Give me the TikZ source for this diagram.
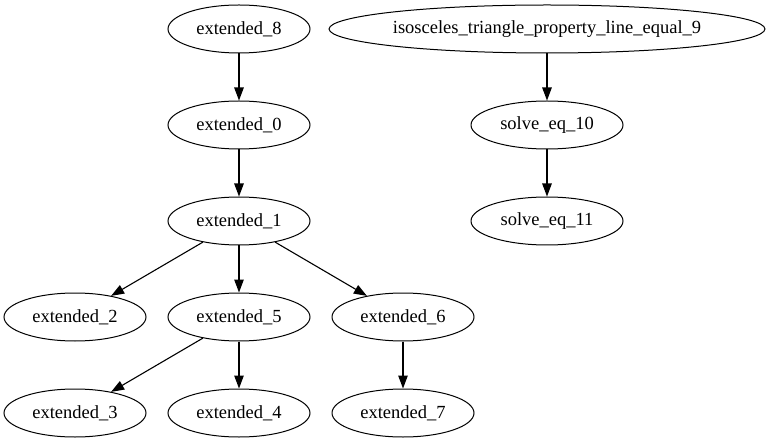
\documentclass[tikz,border=0pt]{standalone}
\usepackage{fontspec}
\setmainfont{Liberation Serif}
\usetikzlibrary{shapes.geometric,arrows.meta}
\begin{document}
\begin{tikzpicture}[x=1pt,y=-1pt,
  gnode/.style={draw,ellipse,line width=1pt,inner sep=0pt,minimum width=142pt,minimum height=48pt,font=\fontsize{18.5}{20}\selectfont},
  gedge/.style={draw,line width=1.1pt,-{Triangle[length=13pt,width=9.5pt]}}]
\useasboundingbox (0,0) rectangle (767,443);
\node[gnode] (e8) at (239,29) {extended\_8};
\node[gnode,minimum width=430pt] (iso) at (547,29) {isosceles\_triangle\_property\_line\_equal\_9};
\node[gnode] (e0) at (239,125) {extended\_0};
\node[gnode,minimum width=152pt] (s10) at (547,125) {solve\_eq\_10};
\node[gnode] (e1) at (239,221) {extended\_1};
\node[gnode,minimum width=152pt] (s11) at (547,221) {solve\_eq\_11};
\node[gnode] (e2) at (75,317) {extended\_2};
\node[gnode] (e5) at (239,317) {extended\_5};
\node[gnode] (e6) at (403,317) {extended\_6};
\node[gnode] (e3) at (75,413) {extended\_3};
\node[gnode] (e4) at (239,413) {extended\_4};
\node[gnode] (e7) at (403,413) {extended\_7};
\draw[gedge] (e8) -- (e0);
\draw[gedge] (e0) -- (e1);
\draw[gedge] (iso) -- (s10);
\draw[gedge] (s10) -- (s11);
\draw[gedge] (e1) -- (e2);
\draw[gedge] (e1) -- (e5);
\draw[gedge] (e1) -- (e6);
\draw[gedge] (e5) -- (e3);
\draw[gedge] (e5) -- (e4);
\draw[gedge] (e6) -- (e7);
\end{tikzpicture}
\end{document}
